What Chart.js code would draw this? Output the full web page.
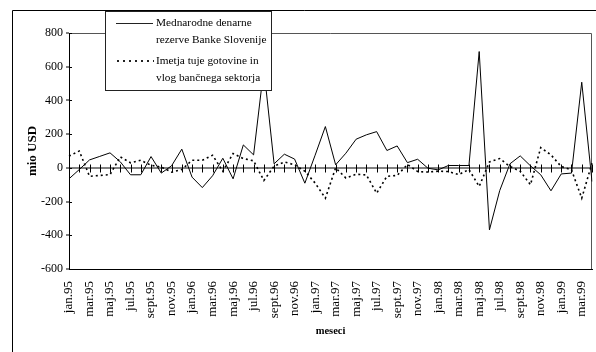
<!DOCTYPE html>
<html>
<head>
<meta charset="utf-8">
<script src="https://cdn.jsdelivr.net/npm/chart.js@4"></script>
<style>
  html, body { margin: 0; padding: 0; background: #fff; }
  canvas { display: block; }
</style>
</head>
<body>
<canvas id="reserveChart" width="596" height="352"></canvas>
<script>
const months = [
  "jan.95", "feb.95", "mar.95", "apr.95", "maj.95", "jun.95", "jul.95", "avg.95", "sept.95", "okt.95", "nov.95", "dec.95",
  "jan.96", "feb.96", "mar.96", "apr.96", "maj.96", "jun.96", "jul.96", "avg.96", "sept.96", "okt.96", "nov.96", "dec.96",
  "jan.97", "feb.97", "mar.97", "apr.97", "maj.97", "jun.97", "jul.97", "avg.97", "sept.97", "okt.97", "nov.97", "dec.97",
  "jan.98", "feb.98", "mar.98", "apr.98", "maj.98", "jun.98", "jul.98", "avg.98", "sept.98", "okt.98", "nov.98", "dec.98",
  "jan.99", "feb.99", "mar.99", "apr.99"
];

// Mednarodne denarne rezerve Banke Slovenije (mio USD)
const reserves = [
  -65, -10, 47, 68, 89, 36, -41, -41, 67, -31, 12, 111,
  -55, -117, -47, 57, -65, 136, 77, 590, 24, 81, 52, -91,
  75, 245, 18, 87, 170, 196, 215, 103, 130, 31, 51, -2,
  -12, 14, 14, 14, 690, -368, -135, 24, 71, 12, -41, -136,
  -36, -31, 508, -81
];

// Imetja tuje gotovine in vlog bančnega sektorja (mio USD)
const bankHoldings = [
  70, 100, -50, -45, -40, 65, 30, 45, 15, 5, -25, -10,
  45, 45, 75, -20, 85, 55, 42, -75, 10, 35, 18, -20,
  -90, -180, 0, -60, -38, -42, -150, -50, -45, 20, -22, -25,
  -20, -22, -40, -10, -110, 35, 55, 8, -20, -100, 120, 77,
  8, -12, -180, 28
];

const yTicks = [-600, -400, -200, 0, 200, 400, 600, 800];

const seriesNames = [
  ["Mednarodne denarne", "rezerve Banke Slovenije"],
  ["Imetja tuje gotovine in", "vlog bančnega sektorja"]
];

const serif = "'Liberation Serif', 'Times New Roman', serif";

const extras = {
  id: "extras",
  beforeDatasetsDraw(chart) {
    const ctx = chart.ctx;
    const xs = chart.scales.x;
    const ys = chart.scales.y;
    const area = chart.chartArea;
    const y0 = Math.round(ys.getPixelForValue(0)) + 0.5;
    ctx.save();
    // plot frame (top and right)
    ctx.strokeStyle = "#555";
    ctx.lineWidth = 1;
    ctx.beginPath();
    ctx.moveTo(area.left, area.top + 0.5);
    ctx.lineTo(area.right - 0.5, area.top + 0.5);
    ctx.lineTo(area.right - 0.5, area.bottom);
    ctx.stroke();
    // cross tick marks on the zero line
    ctx.strokeStyle = "#000";
    ctx.beginPath();
    months.forEach((m, i) => {
      const x = Math.round(xs.getPixelForValue(i)) + 0.5;
      ctx.moveTo(x, y0 - 4);
      ctx.lineTo(x, y0 + 4);
    });
    // inner part of y tick marks
    yTicks.forEach((v) => {
      const y = Math.round(ys.getPixelForValue(v)) + 0.5;
      ctx.moveTo(area.left, y);
      ctx.lineTo(area.left + 3, y);
    });
    ctx.stroke();
    ctx.restore();
  },
  afterDraw(chart) {
    const ctx = chart.ctx;
    ctx.save();
    // outer chart border
    ctx.strokeStyle = "#000";
    ctx.lineWidth = 1;
    ctx.beginPath();
    ctx.moveTo(12.5, 352);
    ctx.lineTo(12.5, 10.5);
    ctx.lineTo(596, 10.5);
    ctx.stroke();

    // legend box
    const bx = 105.5, by = 11.5, bw = 166, bh = 79;
    ctx.fillStyle = "#fff";
    ctx.fillRect(bx, by, bw, bh);
    ctx.strokeStyle = "#222";
    ctx.strokeRect(bx, by, bw, bh);

    ctx.lineWidth = 1;
    ctx.beginPath();
    ctx.moveTo(116, 23.5);
    ctx.lineTo(153, 23.5);
    ctx.stroke();

    ctx.lineWidth = 2;
    ctx.setLineDash([2, 4]);
    ctx.beginPath();
    ctx.moveTo(117, 61);
    ctx.lineTo(154, 61);
    ctx.stroke();
    ctx.setLineDash([]);

    ctx.fillStyle = "#000";
    ctx.font = "11.3px " + serif;
    ctx.textBaseline = "middle";
    ctx.textAlign = "left";
    const rows = [23, 40, 61, 78];
    let r = 0;
    seriesNames.forEach((lines) => {
      lines.forEach((t) => {
        ctx.fillText(t, 156, rows[r]);
        r++;
      });
    });
    ctx.restore();
  }
};

new Chart(document.getElementById("reserveChart"), {
  type: "line",
  data: {
    labels: months,
    datasets: [
      {
        label: seriesNames[0].join(" "),
        data: reserves,
        borderColor: "#000",
        borderWidth: 1,
        pointRadius: 0,
        tension: 0,
        fill: false
      },
      {
        label: seriesNames[1].join(" "),
        data: bankHoldings,
        borderColor: "#000",
        borderWidth: 1.6,
        borderDash: [2, 3],
        pointRadius: 0,
        tension: 0,
        fill: false
      }
    ]
  },
  options: {
    responsive: false,
    animation: false,
    devicePixelRatio: 1,
    layout: { padding: { top: 33, right: 4, left: 0, bottom: 0 } },
    plugins: {
      legend: { display: false },
      tooltip: { enabled: false }
    },
    scales: {
      x: {
        type: "category",
        offset: false,
        afterFit: (s) => {
          s.height = 83;
          s.paddingLeft = 0;
          s.paddingRight = 0;
        },
        grid: { drawOnChartArea: false, drawTicks: false },
        border: { display: true, color: "#000", width: 1 },
        ticks: {
          autoSkip: false,
          maxRotation: 90,
          minRotation: 90,
          padding: 12,
          color: "#000",
          font: { family: serif, size: 13 },
          callback: (v, i) => (i % 2 === 0 ? months[i] : "")
        },
        title: {
          display: true,
          text: "meseci",
          color: "#000",
          font: { family: serif, size: 10.5, weight: "bold" },
          padding: { top: 0, bottom: 14 }
        }
      },
      y: {
        min: -600,
        max: 800,
        afterFit: (s) => { s.width = 69; },
        afterBuildTicks: (s) => { s.ticks = yTicks.map((v) => ({ value: v })); },
        grid: {
          color: (c) => (c.tick && c.tick.value === 0 ? "#808080" : "rgba(0,0,0,0)"),
          lineWidth: (c) => (c.tick && c.tick.value === 0 ? 2 : 0),
          drawTicks: true,
          tickLength: 3,
          tickColor: "#000",
          tickWidth: 1
        },
        border: { display: true, color: "#000", width: 1 },
        ticks: {
          padding: 3,
          color: "#000",
          font: { family: serif, size: 12 }
        },
        title: {
          display: true,
          text: "mio USD",
          color: "#000",
          font: { family: serif, size: 13, weight: "bold" },
          padding: { top: 25, bottom: 0 }
        }
      }
    }
  },
  plugins: [extras]
});
</script>
</body>
</html>
